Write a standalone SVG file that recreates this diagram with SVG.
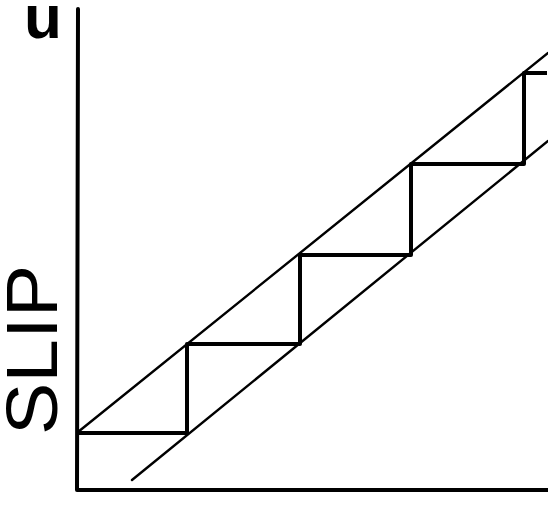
<svg xmlns="http://www.w3.org/2000/svg" width="548" height="506" viewBox="0 0 548 506">
<style>
.axis{fill:none;stroke:#000;stroke-width:4;stroke-linejoin:round;stroke-linecap:round}
.diag{fill:none;stroke:#000;stroke-width:2.4;stroke-linecap:round}
.stair{fill:none;stroke:#000;stroke-width:4;stroke-linejoin:round;stroke-linecap:butt}
.lbl{font-family:"Liberation Sans",Arial,sans-serif;fill:#000}
</style>
<rect width="548" height="506" fill="#fff"/>
<g id="axes">
<path class="axis" d="M78,9 L77,490 L548,490"/>
</g>
<g id="labels">
<text id="u-label" class="lbl" x="24" y="38" font-size="62" font-weight="bold">u</text>
<text id="slip-label" class="lbl" transform="translate(57,435) rotate(-90)" font-size="72" textLength="170" lengthAdjust="spacingAndGlyphs">SLIP</text>
</g>
<g id="bounds">
<line class="diag" x1="78" y1="432" x2="548" y2="53"/>
<line class="diag" x1="132" y1="480" x2="548" y2="141"/>
</g>
<g id="staircase">
<path class="stair" d="M77,433 L187,433 L187,344 L300,344 L300,255 L411,255 L411,164 L524,164 L524,73 L547,73"/>
</g>
</svg>
